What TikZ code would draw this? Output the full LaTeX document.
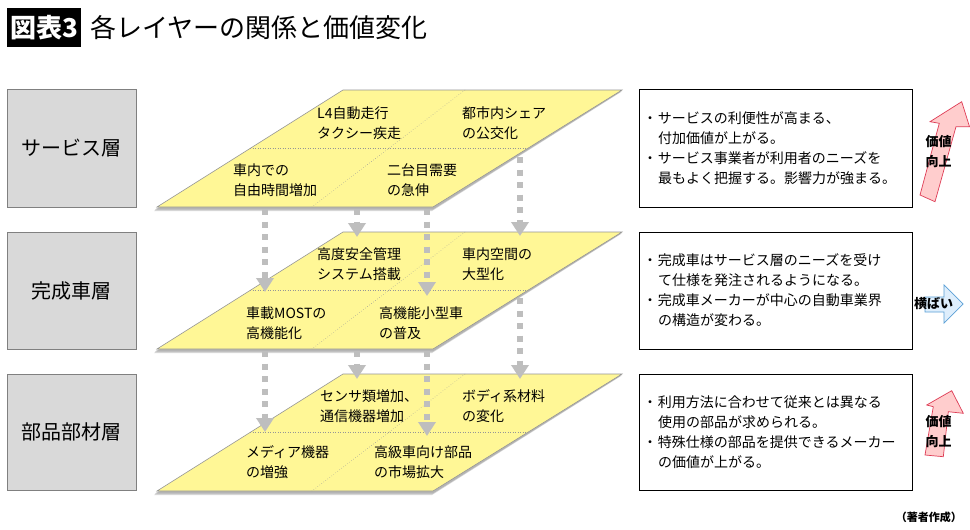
\documentclass[tikz,border=0pt]{standalone}
\usepackage{fontspec}
\setmainfont{Noto Sans CJK JP}
\usetikzlibrary{arrows.meta}
\definecolor{layeryellow}{RGB}{255,247,150}
\definecolor{layeredge}{RGB}{150,150,150}
\definecolor{boxgray}{RGB}{217,217,217}
\definecolor{boxedge}{RGB}{128,128,128}
\definecolor{flowgray}{RGB}{190,190,190}
\definecolor{upfill}{RGB}{255,205,205}
\definecolor{upedge}{RGB}{222,60,85}
\definecolor{flatfill}{RGB}{222,238,252}
\definecolor{flatedge}{RGB}{90,160,215}
\newcommand{\bul}{\makebox[11pt][l]{\hspace*{-4pt}・}}
\newcommand{\ind}{\hspace*{11pt}}
\begin{document}
\begin{tikzpicture}[x=1pt,y=-1pt,
  layerbox/.style={draw=boxedge, fill=boxgray, line width=0.8pt, minimum width=129pt, inner sep=0pt,
    font=\fontsize{20}{22}\selectfont},
  notebox/.style={draw=black, fill=white, line width=0.9pt, text width=257pt, inner xsep=8pt, inner ysep=0pt,
    align=left, font=\fontsize{14}{20}\selectfont},
  celltext/.style={anchor=west, align=left, inner sep=0pt, font=\fontsize{14}{20}\selectfont},
  flow/.style={draw=flowgray, line width=6pt, dash pattern=on 6pt off 6.5pt,
    -{Triangle[width=17pt,length=14pt]}},
  trendlabel/.style={inner sep=0pt, align=center, font=\fontsize{13}{20}\selectfont\bfseries}
]
\useasboundingbox (0,0) rectangle (970,530);
\fill[white] (0,0) rectangle (970,530);

% title
\node[fill=black, text=white, inner sep=0pt, minimum width=74pt, minimum height=39pt,
  anchor=north west, font=\fontsize{26}{26}\selectfont\bfseries] (tag) at (7,8) {図表3};
\node[anchor=west, inner sep=0pt, font=\fontsize{26}{26}\selectfont] (title) at (90,27.5) {各レイヤーの関係と価値変化};

% left layer names
\node[layerbox, minimum height=118pt] (L1) at (71.5,148) {サービス層};
\node[layerbox, minimum height=117pt] (L2) at (71.5,290.5) {完成車層};
\node[layerbox, minimum height=116pt] (L3) at (71.5,432) {部品部材層};

% layers (parallelograms)
\foreach \T in {90,232,374} {
  \fill[black!45, opacity=0.35] (342,\T+2) -- (621,\T+2) -- (432,\T+121) -- (154,\T+121) -- cycle;
  \fill[black!45, opacity=0.45] (343,\T+1) -- (622,\T+1) -- (433,\T+119.5) -- (155,\T+119.5) -- cycle;
  \draw[layeredge, fill=layeryellow, line width=0.6pt] (343,\T) -- (622,\T) -- (433,\T+117) -- (157,\T+117) -- cycle;
  \draw[layeredge, line width=0.5pt, dotted] (250,\T+58.5) -- (527.5,\T+58.5);
  \draw[layeredge, line width=0.5pt, dotted] (465,\T) -- (312,\T+117);
}

% layer texts
\node[celltext] (a1) at (317,123) {L4自動走行\\タクシー疾走};
\node[celltext] (a2) at (462,123) {都市内シェア\\の公交化};
\node[celltext] (a3) at (233,180) {車内での\\自由時間増加};
\node[celltext] (a4) at (387,180) {二台目需要\\の急伸};
\node[celltext] (b1) at (317,264) {高度安全管理\\システム搭載};
\node[celltext] (b2) at (462,264) {車内空間の\\大型化};
\node[celltext] (b3) at (246,323) {車載MOSTの\\高機能化};
\node[celltext] (b4) at (379,323) {高機能小型車\\の普及};
\node[celltext] (c1) at (320,406) {センサ類増加、\\通信機器増加};
\node[celltext] (c2) at (462,406) {ボディ系材料\\の変化};
\node[celltext] (c3) at (246,462) {メディア機器\\の増強};
\node[celltext] (c4) at (374,462) {高級車向け部品\\の市場拡大};

% flow arrows
\coordinate (f1s) at (265,209); \coordinate (f1e) at (265,292);
\coordinate (f2s) at (357,209); \coordinate (f2e) at (357,237);
\coordinate (f3s) at (427,209); \coordinate (f3e) at (427,296);
\coordinate (f4s) at (520,157); \coordinate (f4e) at (520,236);
\coordinate (g1s) at (265,351); \coordinate (g1e) at (265,432);
\coordinate (g2s) at (357,351); \coordinate (g2e) at (357,379);
\coordinate (g3s) at (427,351); \coordinate (g3e) at (427,436);
\coordinate (g4s) at (520,298); \coordinate (g4e) at (520,379);
\foreach \p in {f1,f2,f3,f4,g1,g2,g3,g4} {
  \draw[flow] (\p s) -- (\p e);
}

% note boxes
\node[notebox, minimum height=118pt] (R1) at (775.5,148)
  {\bul サービスの利便性が高まる、\\\ind 付加価値が上がる。\\\bul サービス事業者が利用者のニーズを\\\ind 最もよく把握する。影響力が強まる。};
\node[notebox, minimum height=117pt] (R2) at (775.5,290.5)
  {\bul 完成車はサービス層のニーズを受け\\\ind て仕様を発注されるようになる。\\\bul 完成車メーカーが中心の自動車業界\\\ind の構造が変わる。};
\node[notebox, minimum height=116pt] (R3) at (775.5,432)
  {\bul 利用方法に合わせて従来とは異なる\\\ind 使用の部品が求められる。\\\bul 特殊仕様の部品を提供できるメーカー\\\ind の価値が上がる。};

% trend arrows
\draw[upedge, fill=upfill, line width=0.7pt, line join=miter]
  (920,195) -- (935,201.7) -- (956,126.7) -- (969.5,126.7) -- (961.7,101.7) -- (930,121.7) -- (939.3,123.3) -- cycle;
\node[trendlabel] (v1) at (938.5,152) {価値\\向上};
\draw[flatedge, fill=flatfill, line width=0.7pt, line join=miter]
  (925,297) -- (944,297) -- (944,285) -- (963,304) -- (944,323) -- (944,312) -- (925,312) -- cycle;
\node[trendlabel] (v2) at (933.5,304) {横ばい};
\draw[upedge, fill=upfill, line width=0.7pt, line join=miter]
  (925,455) -- (943.3,456.7) -- (948.3,411.7) -- (963.3,413.3) -- (951.7,390.7) -- (926.7,405) -- (933.3,406.7) -- cycle;
\node[trendlabel] (v3) at (938.5,432) {価値\\向上};

% source
\node[anchor=east, inner sep=0pt, font=\fontsize{11}{11}\selectfont\bfseries] (src) at (962,517) {（著者作成）};
\end{tikzpicture}
\end{document}
